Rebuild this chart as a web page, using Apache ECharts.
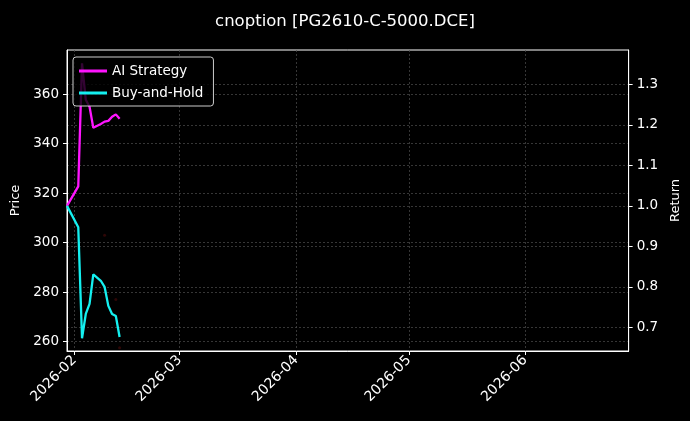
<!DOCTYPE html>
<html>
<head>
<meta charset="utf-8">
<script src="https://cdn.jsdelivr.net/npm/echarts@6/dist/echarts.min.js"></script>
<style>
  html, body { margin: 0; padding: 0; background: #000; }
  #main { width: 690px; height: 421px; }
</style>
</head>
<body>
<div id="main"></div>
<script>
var dates = ['2026-01-30', '2026-02-02', '2026-02-03', '2026-02-04', '2026-02-05', '2026-02-06',
             '2026-02-08', '2026-02-09', '2026-02-10', '2026-02-11', '2026-02-12', '2026-02-13'];
var aiStrategy = [1.0, 1.048, 1.352, 1.262, 1.245, 1.193, 1.202, 1.208, 1.21, 1.22, 1.226, 1.215];
var buyHold    = [1.0, 0.947, 0.673, 0.733, 0.758, 0.831, 0.815, 0.800, 0.753, 0.733, 0.728, 0.676];

// faint price marks on the left axis
var priceDates = ['2026-02-09', '2026-02-12', '2026-02-13'];
var priceVals  = [303, 277, 257.5];

var monthTicks = ['2026-02-01', '2026-03-01', '2026-04-01', '2026-05-01', '2026-06-01'];
var priceTicks = [260, 280, 300, 320, 340, 360];
var returnTicks = [0.7, 0.8, 0.9, 1.0, 1.1, 1.2, 1.3];

function ts(s) {
  var p = s.split('-');
  return +new Date(+p[0], +p[1] - 1, +p[2]);
}
function pair(xs, ys) {
  var out = [];
  for (var i = 0; i < xs.length; i++) out.push([ts(xs[i]), ys[i]]);
  return out;
}

var chart = echarts.init(document.getElementById('main'));
var font = 'DejaVu Sans';
var gridLine = { show: true, lineStyle: { color: '#4e4e4e', type: [2, 2], width: 0.7 } };

var option = {
  backgroundColor: '#000',
  animation: false,
  textStyle: { fontFamily: font },
  title: {
    text: 'cnoption [PG2610-C-5000.DCE]',
    left: 'center', top: 8,
    textStyle: { color: '#fff', fontSize: 16.5, fontWeight: 'normal', fontFamily: font }
  },
  legend: {
    orient: 'vertical',
    left: 73, top: 57,
    itemWidth: 28, itemHeight: 3, itemGap: 8,
    padding: [7, 10, 6, 6],
    borderColor: '#cccccc', borderWidth: 1, borderRadius: 3,
    backgroundColor: 'rgba(0,0,0,0.8)',
    textStyle: { color: '#fff', fontSize: 13.5, fontFamily: font },
    data: [
      { name: 'AI Strategy', icon: 'rect' },
      { name: 'Buy-and-Hold', icon: 'rect' }
    ]
  },
  grid: {
    left: 67, right: 61, top: 50, bottom: 70,
    show: true, borderColor: '#fff', borderWidth: 1
  },
  xAxis: {
    type: 'value',
    min: ts('2026-01-30'),
    max: ts('2026-06-28') + 12 * 3600 * 1000,
    axisLine: { lineStyle: { color: '#fff' } },
    axisTick: { show: true, length: 4, lineStyle: { color: '#fff' }, customValues: monthTicks.map(ts) },
    axisLabel: {
      color: '#fff', fontSize: 14, rotate: 45, fontFamily: font, margin: 7,
      customValues: monthTicks.map(ts),
      formatter: function (v) {
        var d = new Date(v);
        var m = d.getMonth() + 1;
        return d.getFullYear() + '-' + (m < 10 ? '0' + m : m);
      }
    },
    splitLine: gridLine
  },
  yAxis: [
    {
      type: 'value', name: 'Price', nameLocation: 'middle', nameGap: 45,
      nameTextStyle: { color: '#fff', fontSize: 13, fontFamily: font },
      min: 256.2, max: 377.9,
      axisLine: { show: true, lineStyle: { color: '#fff' } },
      axisTick: { show: true, length: 4, lineStyle: { color: '#fff' }, customValues: priceTicks },
      axisLabel: { color: '#fff', fontSize: 13.5, fontFamily: font, customValues: priceTicks },
      splitLine: gridLine
    },
    {
      type: 'value', name: 'Return', nameLocation: 'middle', nameGap: 40,
      nameTextStyle: { color: '#fff', fontSize: 13, fontFamily: font },
      min: 0.6415, max: 1.385,
      axisLine: { show: true, lineStyle: { color: '#fff' } },
      axisTick: { show: true, length: 4, lineStyle: { color: '#fff' }, customValues: returnTicks },
      axisLabel: {
        color: '#fff', fontSize: 13.5, fontFamily: font, customValues: returnTicks,
        formatter: function (v) { return v.toFixed(1); }
      },
      splitLine: gridLine
    }
  ],
  series: [
    {
      name: 'Price', type: 'scatter', yAxisIndex: 0,
      symbolSize: 3, silent: true,
      itemStyle: { color: '#3a0808' },
      data: pair(priceDates, priceVals)
    },
    {
      name: 'AI Strategy', type: 'line', yAxisIndex: 1,
      showSymbol: false,
      lineStyle: { color: '#ff14ff', width: 2.3 },
      itemStyle: { color: '#ff14ff' },
      data: pair(dates, aiStrategy)
    },
    {
      name: 'Buy-and-Hold', type: 'line', yAxisIndex: 1,
      showSymbol: false,
      lineStyle: { color: '#14f0f0', width: 2.3 },
      itemStyle: { color: '#14f0f0' },
      data: pair(dates, buyHold)
    }
  ]
};

chart.setOption(option);
</script>
</body>
</html>
